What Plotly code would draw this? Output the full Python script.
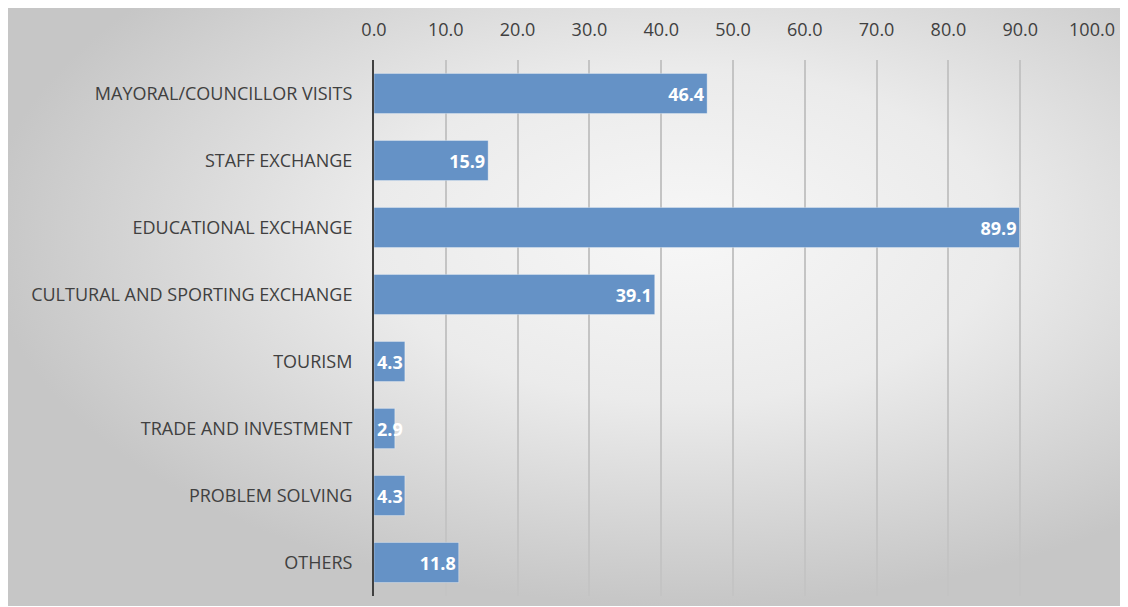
import base64
import plotly.graph_objects as go

categories = [
    "MAYORAL/COUNCILLOR VISITS",
    "STAFF EXCHANGE",
    "EDUCATIONAL EXCHANGE",
    "CULTURAL AND SPORTING EXCHANGE",
    "TOURISM",
    "TRADE AND INVESTMENT",
    "PROBLEM SOLVING",
    "OTHERS",
]
values = [46.4, 15.9, 89.9, 39.1, 4.3, 2.9, 4.3, 11.8]
tick_vals = [0, 10, 20, 30, 40, 50, 60, 70, 80, 90, 100]

W, H = 1128, 598
L, R, T, B = 366, 44, 52, 10
pw, ph = W - L - R, H - T - B

svg = """<svg xmlns='http://www.w3.org/2000/svg' width='1000' height='600' viewBox='0 0 1000 600' preserveAspectRatio='none'>
<defs><radialGradient id='g' cx='0.6' cy='0.38' r='0.62' fx='0.6' fy='0.38'>
<stop offset='0' stop-color='#f7f7f7'/>
<stop offset='0.45' stop-color='#ebebeb'/>
<stop offset='1' stop-color='#c6c6c6'/>
</radialGradient></defs>
<rect x='0' y='0' width='1000' height='600' fill='url(#g)'/>
</svg>"""
src = "data:image/svg+xml;base64," + base64.b64encode(svg.encode()).decode()

FONT = "Open Sans, sans-serif"
SMALL = 8  # labels of bars shorter than this spill over to the right

big = [v if v >= SMALL else None for v in values]
small = [v if v < SMALL else None for v in values]

fig = go.Figure()
for vals, anchor in ((big, "end"), (small, "start")):
    fig.add_trace(
        go.Bar(
            x=vals,
            y=categories,
            orientation="h",
            width=0.6,
            marker=dict(color="#6592c6", line=dict(color="rgba(255,255,255,0.35)", width=1)),
            text=[f"{v:.1f}" if v is not None else "" for v in vals],
            textposition="inside",
            insidetextanchor=anchor,
            constraintext="none",
            textangle=0,
            textfont=dict(family=FONT, size=18, color="white", weight="bold"),
            cliponaxis=False,
            hoverinfo="x+y",
        )
    )

fig.update_layout(
    width=W,
    height=H,
    margin=dict(l=L, r=R, t=T, b=B),
    paper_bgcolor="white",
    plot_bgcolor="rgba(0,0,0,0)",
    showlegend=False,
    barmode="overlay",
    images=[dict(source=src, xref="paper", yref="paper", x=-L / pw, y=1 + T / ph,
                 sizex=W / pw, sizey=H / ph, xanchor="left", yanchor="top",
                 sizing="stretch", layer="below")],
    xaxis=dict(
        side="top",
        range=[0, 100],
        tickvals=tick_vals,
        ticktext=[f"{v:.1f}" for v in tick_vals],
        showgrid=True,
        gridcolor="#c4c4c4",
        gridwidth=1.5,
        zeroline=False,
        showline=False,
        ticks="",
        ticklabelstandoff=19,
        tickfont=dict(family=FONT, size=18, color="#404040"),
    ),
    yaxis=dict(
        autorange="reversed",
        showgrid=False,
        showline=True,
        linecolor="#404040",
        linewidth=2,
        ticks="",
        ticklabelstandoff=16,
        tickfont=dict(family=FONT, size=18, color="#404040"),
    ),
)

fig.write_html("out.html")
